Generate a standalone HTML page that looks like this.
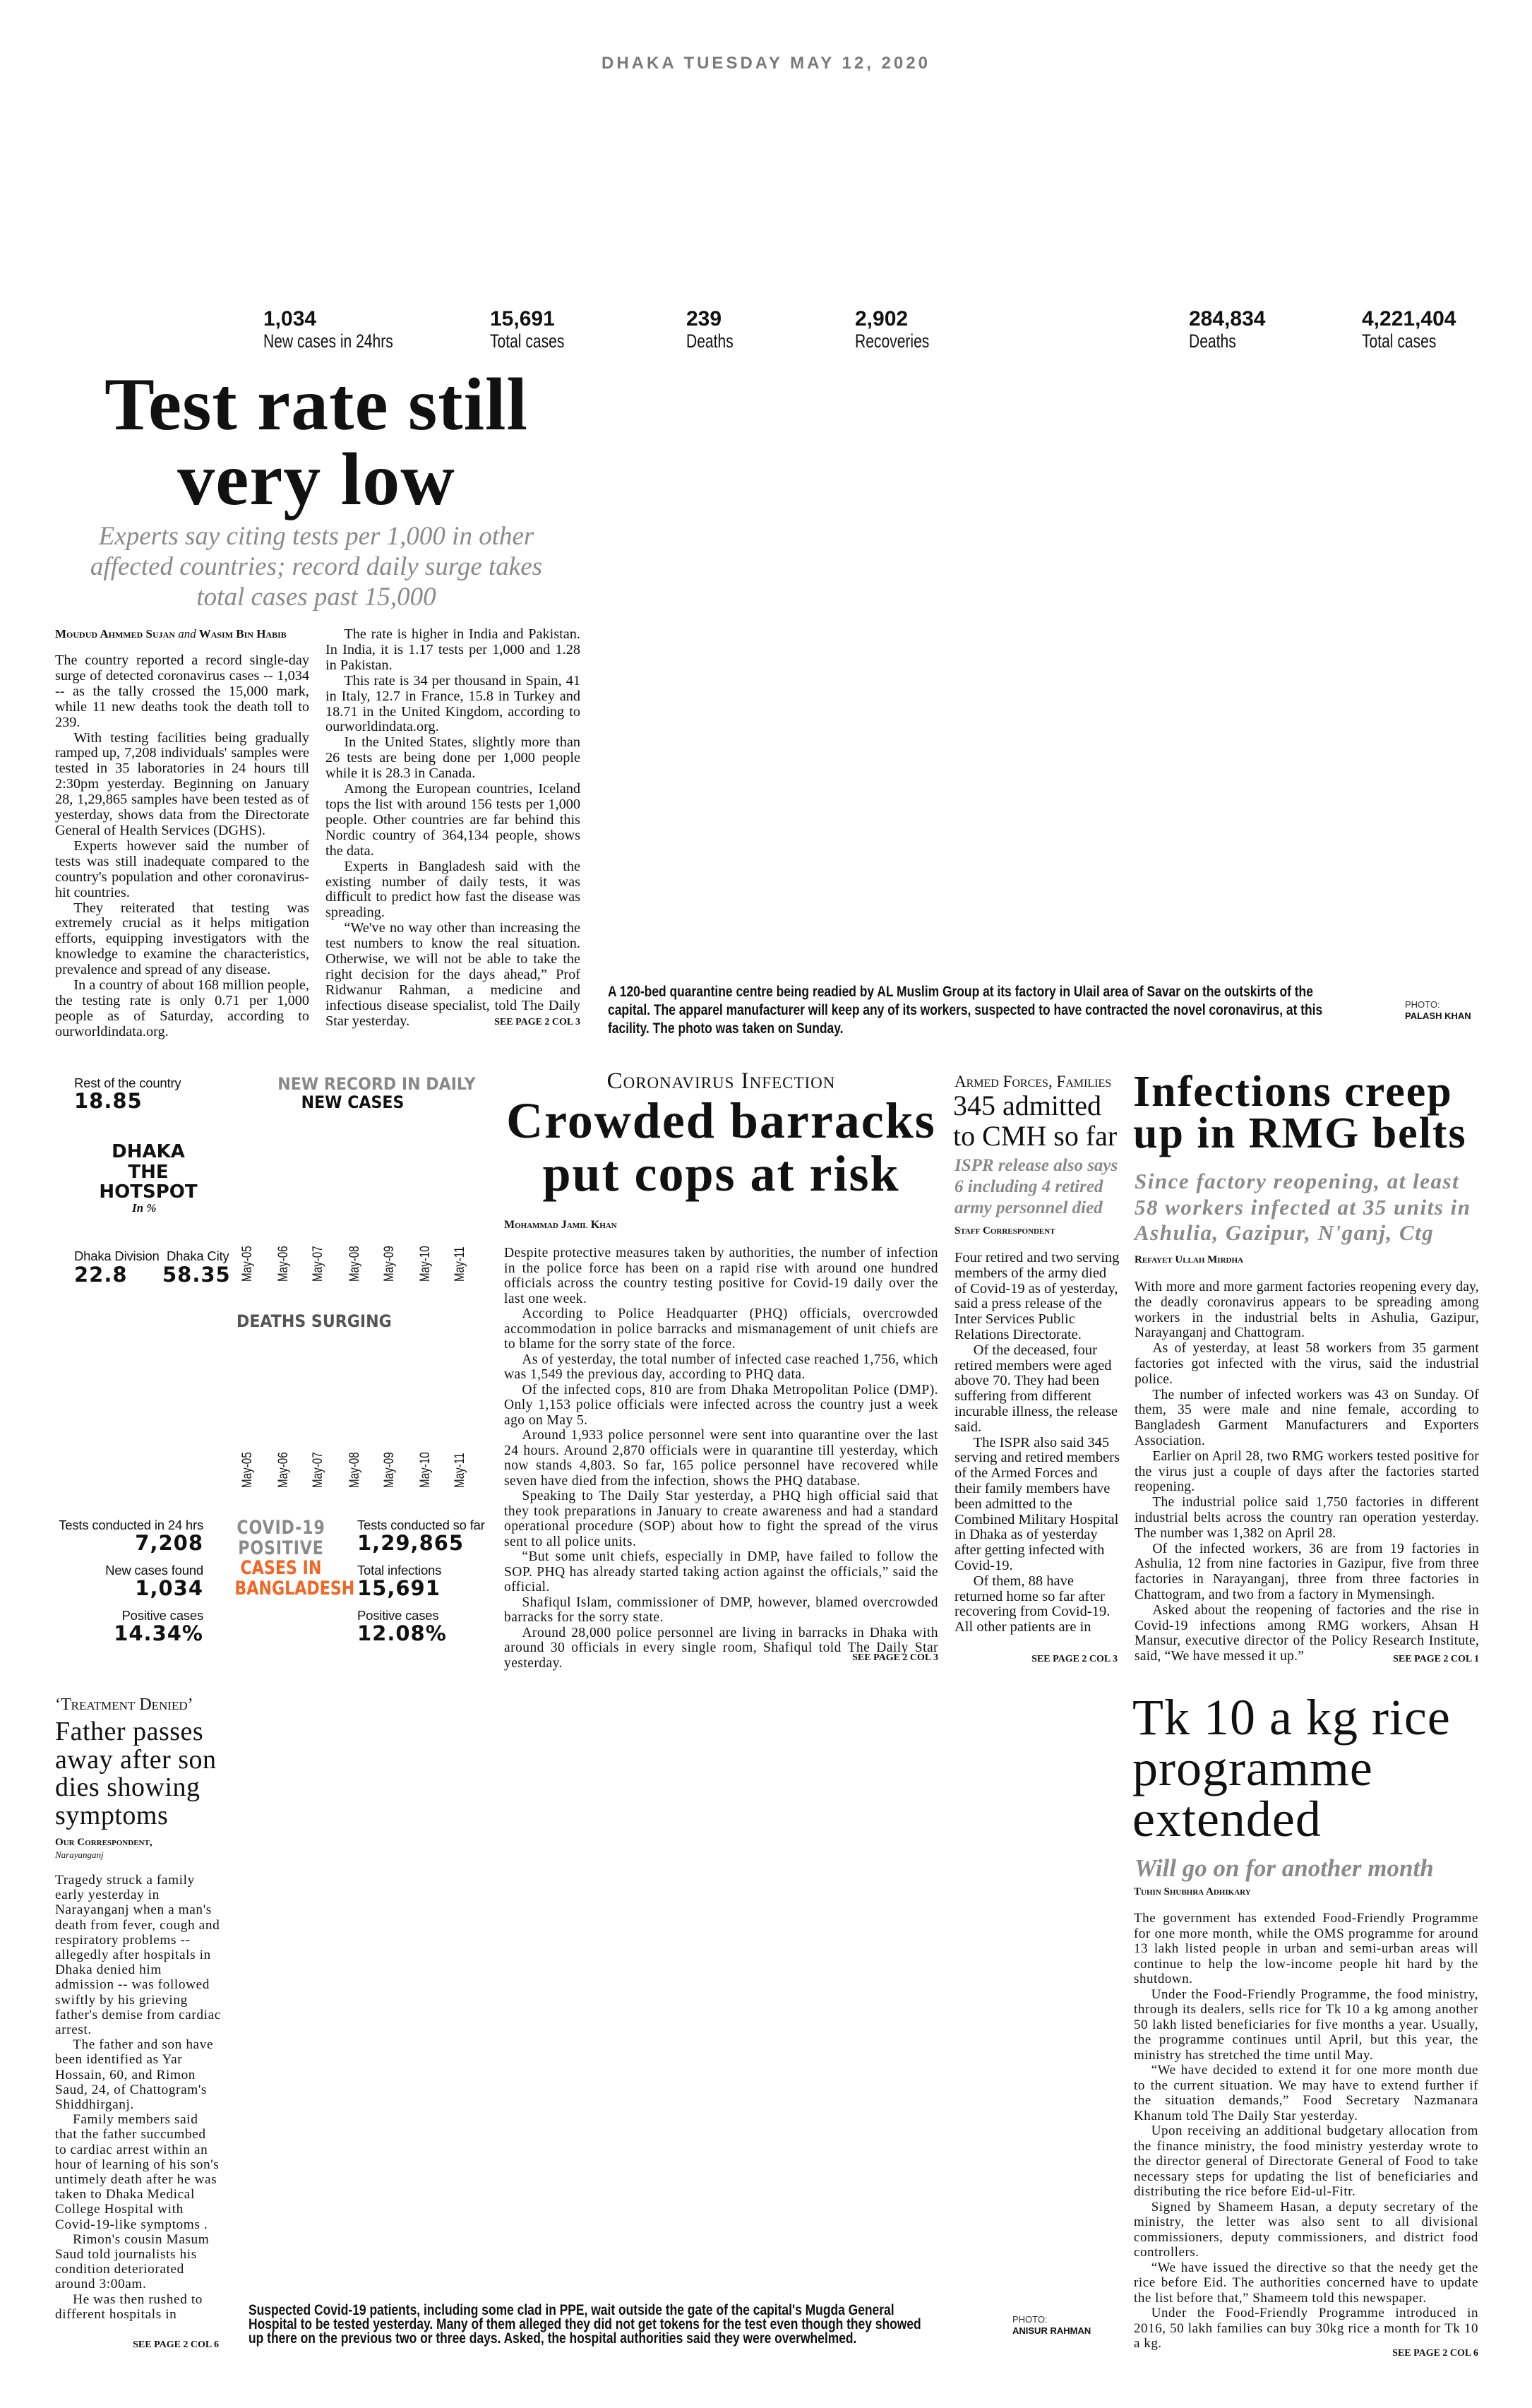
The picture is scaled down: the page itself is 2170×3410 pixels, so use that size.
<!DOCTYPE html>
<html><head><meta charset="utf-8">
<style>
*{margin:0;padding:0;box-sizing:border-box}
body{width:2170px;height:3410px;background:#fff;position:relative;overflow:hidden;font-family:"Liberation Serif",serif;color:#111}
.a{position:absolute}
.nw{white-space:nowrap}
.sans{font-family:"Liberation Sans",sans-serif}
.body p{text-align:justify;text-indent:1.3em}
.body p.first{text-indent:0}
.see{font-family:"Liberation Serif",serif;font-weight:bold;font-size:14px;text-align:right}
.cond{transform-origin:0 0}
.stat-n{font-family:"Liberation Sans",sans-serif;font-weight:bold;font-size:30px;line-height:32px}
.stat-l{font-family:"Liberation Sans",sans-serif;font-size:27px;line-height:30px;transform:scaleX(.78);transform-origin:0 0;white-space:nowrap}
.ig{font-family:"DejaVu Sans",sans-serif}
.lbl{font-family:"Liberation Sans",sans-serif;font-size:18.5px;line-height:20px;white-space:nowrap;letter-spacing:-.2px}
.big{font-family:"DejaVu Sans",sans-serif;font-weight:bold;font-size:29px;line-height:30px;white-space:nowrap;letter-spacing:1px}
.date{font-family:"Liberation Sans",sans-serif;font-size:19px;white-space:nowrap;transform:rotate(-90deg) scaleX(.8);transform-origin:0 0}
</style></head><body>

<div class="a sans nw" style="left:852px;top:76px;font-size:24px;font-weight:bold;letter-spacing:4px;color:#7a7a7a">DHAKA TUESDAY MAY 12, 2020</div>

<!-- stats -->
<div class="a" style="left:373px;top:436px"><div class="stat-n">1,034</div><div class="stat-l">New cases in 24hrs</div></div>
<div class="a" style="left:694px;top:436px"><div class="stat-n">15,691</div><div class="stat-l">Total cases</div></div>
<div class="a" style="left:972px;top:436px"><div class="stat-n">239</div><div class="stat-l">Deaths</div></div>
<div class="a" style="left:1211px;top:436px"><div class="stat-n">2,902</div><div class="stat-l">Recoveries</div></div>
<div class="a" style="left:1684px;top:436px"><div class="stat-n">284,834</div><div class="stat-l">Deaths</div></div>
<div class="a" style="left:1929px;top:436px"><div class="stat-n">4,221,404</div><div class="stat-l">Total cases</div></div>

<!-- Test rate headline -->
<div class="a nw" style="left:78px;width:740px;top:520px;font-size:106px;line-height:106px;text-align:center;font-weight:bold;letter-spacing:1px">Test rate still</div>
<div class="a nw" style="left:78px;width:740px;top:626px;font-size:106px;line-height:106px;text-align:center;font-weight:bold;letter-spacing:1px">very low</div>
<div class="a" style="left:100px;width:696px;top:738px;font-size:37px;line-height:43px;text-align:center;font-style:italic;color:#8a8a8a">Experts say citing tests per 1,000 in other affected countries; record daily surge takes total cases past 15,000</div>

<div class="a nw" style="left:78px;top:888px;font-size:17px;font-weight:bold;font-variant:small-caps">Moudud Ahmmed Sujan <i style="font-weight:normal;font-variant:normal">and</i> Wasim Bin Habib</div>
<div class="a body" style="left:78px;top:925px;width:360px;font-size:20.3px;line-height:21.9px">
<p class="first">The country reported a record single-day surge of detected coronavirus cases -- 1,034 -- as the tally crossed the 15,000 mark, while 11 new deaths took the death toll to 239.</p>
<p>With testing facilities being gradually ramped up, 7,208 individuals' samples were tested in 35 laboratories in 24 hours till 2:30pm yesterday. Beginning on January 28, 1,29,865 samples have been tested as of yesterday, shows data from the Directorate General of Health Services (DGHS).</p>
<p>Experts however said the number of tests was still inadequate compared to the country's population and other coronavirus-hit countries.</p>
<p>They reiterated that testing was extremely crucial as it helps mitigation efforts, equipping investigators with the knowledge to examine the characteristics, prevalence and spread of any disease.</p>
<p>In a country of about 168 million people, the testing rate is only 0.71 per 1,000 people as of Saturday, according to ourworldindata.org.</p>
</div>
<div class="a body" style="left:461px;top:888px;width:361px;font-size:20.3px;line-height:21.9px">
<p>The rate is higher in India and Pakistan. In India, it is 1.17 tests per 1,000 and 1.28 in Pakistan.</p>
<p>This rate is 34 per thousand in Spain, 41 in Italy, 12.7 in France, 15.8 in Turkey and 18.71 in the United Kingdom, according to ourworldindata.org.</p>
<p>In the United States, slightly more than 26 tests are being done per 1,000 people while it is 28.3 in Canada.</p>
<p>Among the European countries, Iceland tops the list with around 156 tests per 1,000 people. Other countries are far behind this Nordic country of 364,134 people, shows the data.</p>
<p>Experts in Bangladesh said with the existing number of daily tests, it was difficult to predict how fast the disease was spreading.</p>
<p>“We've no way other than increasing the test numbers to know the real situation. Otherwise, we will not be able to take the right decision for the days ahead,” Prof Ridwanur Rahman, a medicine and infectious disease specialist, told The Daily Star yesterday.</p>
</div>
<div class="a see nw" style="left:622px;width:200px;top:1440px">SEE PAGE 2 COL 3</div>

<!-- photo caption 1 -->
<div class="a sans cond" style="left:861px;top:1392px;width:1250px;font-size:21px;line-height:26px;font-weight:bold;transform:scaleX(.83)">A 120-bed quarantine centre being readied by AL Muslim Group at its factory in Ulail area of Savar on the outskirts of the capital. The apparel manufacturer will keep any of its workers, suspected to have contracted the novel coronavirus, at this facility. The photo was taken on Sunday.</div>
<div class="a sans nw" style="left:1990px;top:1415px;font-size:13px;line-height:16px;color:#333">PHOTO:<br><b style="color:#111">PALASH KHAN</b></div>

<!-- infographic -->
<div class="a lbl" style="left:105px;top:1524px">Rest of the country</div>
<div class="a big" style="left:105px;top:1544px">18.85</div>
<div class="a ig nw" style="left:384px;width:231px;top:1522px;font-size:24px;font-weight:bold;line-height:26px;text-align:center;color:#888;transform:scaleX(.92);transform-origin:50% 0">NEW RECORD IN DAILY<br><span style="color:#111">NEW CASES</span></div>
<div class="a ig nw" style="left:140px;width:140px;top:1617px;font-size:26px;font-weight:bold;line-height:28.5px;text-align:center">DHAKA<br>THE<br>HOTSPOT</div>
<div class="a nw" style="left:187px;top:1701px;font-size:17px;font-style:italic;font-weight:bold">In %</div>
<div class="a lbl" style="left:105px;top:1769px">Dhaka Division</div>
<div class="a big" style="left:105px;top:1790px">22.8</div>
<div class="a lbl" style="left:236px;top:1769px">Dhaka City</div>
<div class="a big" style="left:230px;top:1790px">58.35</div>

<div class="a date" style="left:340px;top:1815px">May-05</div>
<div class="a date" style="left:391px;top:1815px">May-06</div>
<div class="a date" style="left:440px;top:1815px">May-07</div>
<div class="a date" style="left:492px;top:1815px">May-08</div>
<div class="a date" style="left:541px;top:1815px">May-09</div>
<div class="a date" style="left:592px;top:1815px">May-10</div>
<div class="a date" style="left:641px;top:1815px">May-11</div>

<div class="a ig nw" style="left:335px;top:1857px;font-size:24px;font-weight:bold;color:#555;transform:scaleX(.92);transform-origin:0 0">DEATHS SURGING</div>

<div class="a date" style="left:340px;top:2107px">May-05</div>
<div class="a date" style="left:391px;top:2107px">May-06</div>
<div class="a date" style="left:440px;top:2107px">May-07</div>
<div class="a date" style="left:492px;top:2107px">May-08</div>
<div class="a date" style="left:541px;top:2107px">May-09</div>
<div class="a date" style="left:592px;top:2107px">May-10</div>
<div class="a date" style="left:641px;top:2107px">May-11</div>

<div class="a" style="left:60px;width:228px;top:2150px;text-align:right">
<div class="lbl">Tests conducted in 24 hrs</div><div class="big">7,208</div>
<div class="lbl" style="margin-top:14px">New cases found</div><div class="big">1,034</div>
<div class="lbl" style="margin-top:14px">Positive cases</div><div class="big">14.34%</div>
</div>
<div class="a ig nw" style="left:318px;width:160px;top:2150px;text-align:center;font-size:27px;line-height:28.5px;font-weight:bold;transform:scaleX(.82);transform-origin:50% 0">
<span style="color:#8a8a8a;letter-spacing:1px">COVID-19<br>POSITIVE</span><br><span style="color:#f26522">CASES IN<br>BANGLADESH</span></div>
<div class="a" style="left:506px;top:2150px">
<div class="lbl">Tests conducted so far</div><div class="big">1,29,865</div>
<div class="lbl" style="margin-top:14px">Total infections</div><div class="big">15,691</div>
<div class="lbl" style="margin-top:14px">Positive cases</div><div class="big">12.08%</div>
</div>

<!-- Crowded barracks -->
<div class="a nw" style="left:716px;width:611px;top:1513px;font-size:33px;text-align:center;font-variant:small-caps;letter-spacing:1px">Coronavirus Infection</div>
<div class="a nw" style="left:710px;width:623px;top:1550px;font-size:72px;line-height:75px;text-align:center;font-weight:bold;letter-spacing:2px">Crowded barracks</div>
<div class="a nw" style="left:710px;width:623px;top:1625px;font-size:72px;line-height:75px;text-align:center;font-weight:bold;letter-spacing:2px">put cops at risk</div>
<div class="a nw" style="left:714px;top:1726px;font-size:16px;font-weight:bold;font-variant:small-caps">Mohammad Jamil Khan</div>
<div class="a body" style="left:714px;top:1764px;width:615px;font-size:19.5px;line-height:21.5px;letter-spacing:.45px">
<p class="first">Despite protective measures taken by authorities, the number of infection in the police force has been on a rapid rise with around one hundred officials across the country testing positive for Covid-19 daily over the last one week.</p>
<p>According to Police Headquarter (PHQ) officials, overcrowded accommodation in police barracks and mismanagement of unit chiefs are to blame for the sorry state of the force.</p>
<p>As of yesterday, the total number of infected case reached 1,756, which was 1,549 the previous day, according to PHQ data.</p>
<p>Of the infected cops, 810 are from Dhaka Metropolitan Police (DMP). Only 1,153 police officials were infected across the country just a week ago on May 5.</p>
<p>Around 1,933 police personnel were sent into quarantine over the last 24 hours. Around 2,870 officials were in quarantine till yesterday, which now stands 4,803. So far, 165 police personnel have recovered while seven have died from the infection, shows the PHQ database.</p>
<p>Speaking to The Daily Star yesterday, a PHQ high official said that they took preparations in January to create awareness and had a standard operational procedure (SOP) about how to fight the spread of the virus sent to all police units.</p>
<p>“But some unit chiefs, especially in DMP, have failed to follow the SOP. PHQ has already started taking action against the officials,” said the official.</p>
<p>Shafiqul Islam, commissioner of DMP, however, blamed overcrowded barracks for the sorry state.</p>
<p>Around 28,000 police personnel are living in barracks in Dhaka with around 30 officials in every single room, Shafiqul told The Daily Star yesterday.</p>
</div>
<div class="a see nw" style="left:1129px;width:200px;top:2340px">SEE PAGE 2 COL 3</div>

<!-- 345 admitted -->
<div class="a nw" style="left:1352px;top:1519px;font-size:23px;font-variant:small-caps">Armed Forces, Families</div>
<div class="a nw" style="left:1350px;top:1544px;font-size:40px;line-height:43px">345 admitted<br>to CMH so far</div>
<div class="a" style="left:1352px;width:240px;top:1636px;font-size:25px;line-height:30px;font-style:italic;font-weight:bold;color:#8a8a8a">ISPR release also says 6 including 4 retired army personnel died</div>
<div class="a nw" style="left:1352px;top:1735px;font-size:15px;font-weight:bold;font-variant:small-caps">Staff Correspondent</div>
<div class="a body" style="left:1352px;top:1771px;width:235px;font-size:20.5px;line-height:21.8px">
<p class="first" style="text-align:left">Four retired and two serving members of the army died of Covid-19 as of yesterday, said a press release of the Inter Services Public Relations Directorate.</p>
<p style="text-align:left">Of the deceased, four retired members were aged above 70. They had been suffering from different incurable illness, the release said.</p>
<p style="text-align:left">The ISPR also said 345 serving and retired members of the Armed Forces and their family members have been admitted to the Combined Military Hospital in Dhaka as of yesterday after getting infected with Covid-19.</p>
<p style="text-align:left">Of them, 88 have returned home so far after recovering from Covid-19. All other patients are in</p>
</div>
<div class="a see nw" style="left:1383px;width:200px;top:2342px">SEE PAGE 2 COL 3</div>

<!-- Infections creep -->
<div class="a nw" style="left:1605px;top:1517px;font-size:62px;line-height:59px;font-weight:bold;letter-spacing:2px">Infections creep<br>up in RMG belts</div>
<div class="a" style="left:1607px;width:480px;top:1655px;font-size:31px;line-height:36.5px;font-style:italic;font-weight:bold;color:#8a8a8a;letter-spacing:1.5px">Since factory reopening, at least 58 workers infected at 35 units in Ashulia, Gazipur, N'ganj, Ctg</div>
<div class="a nw" style="left:1607px;top:1776px;font-size:15px;font-weight:bold;font-variant:small-caps">Refayet Ullah Mirdha</div>
<div class="a body" style="left:1607px;top:1812px;width:488px;font-size:19.5px;line-height:21.8px;letter-spacing:.25px">
<p class="first">With more and more garment factories reopening every day, the deadly coronavirus appears to be spreading among workers in the industrial belts in Ashulia, Gazipur, Narayanganj and Chattogram.</p>
<p>As of yesterday, at least 58 workers from 35 garment factories got infected with the virus, said the industrial police.</p>
<p>The number of infected workers was 43 on Sunday. Of them, 35 were male and nine female, according to Bangladesh Garment Manufacturers and Exporters Association.</p>
<p>Earlier on April 28, two RMG workers tested positive for the virus just a couple of days after the factories started reopening.</p>
<p>The industrial police said 1,750 factories in different industrial belts across the country ran operation yesterday. The number was 1,382 on April 28.</p>
<p>Of the infected workers, 36 are from 19 factories in Ashulia, 12 from nine factories in Gazipur, five from three factories in Narayanganj, three from three factories in Chattogram, and two from a factory in Mymensingh.</p>
<p>Asked about the reopening of factories and the rise in Covid-19 infections among RMG workers, Ahsan H Mansur, executive director of the Policy Research Institute, said, “We have messed it up.”</p>
</div>
<div class="a see nw" style="left:1895px;width:200px;top:2342px">SEE PAGE 2 COL 1</div>

<!-- Father passes -->
<div class="a nw" style="left:78px;top:2401px;font-size:24px;font-variant:small-caps">‘Treatment Denied’</div>
<div class="a nw" style="left:78px;top:2433px;font-size:38px;line-height:39.5px;letter-spacing:.5px">Father passes<br>away after son<br>dies showing<br>symptoms</div>
<div class="a nw" style="left:78px;top:2601px;font-size:15px;font-weight:bold;font-variant:small-caps">Our Correspondent,</div>
<div class="a nw" style="left:78px;top:2619px;font-size:13px;font-style:italic">Narayanganj</div>
<div class="a body" style="left:78px;top:2652px;width:235px;font-size:19.3px;line-height:21.2px;letter-spacing:.6px">
<p class="first" style="text-align:left">Tragedy struck a family early yesterday in Narayanganj when a man's death from fever, cough and respiratory problems -- allegedly after hospitals in Dhaka denied him admission -- was followed swiftly by his grieving father's demise from cardiac arrest.</p>
<p style="text-align:left">The father and son have been identified as Yar Hossain, 60, and Rimon Saud, 24, of Chattogram's Shiddhirganj.</p>
<p style="text-align:left">Family members said that the father succumbed to cardiac arrest within an hour of learning of his son's untimely death after he was taken to Dhaka Medical College Hospital with Covid-19-like symptoms .</p>
<p style="text-align:left">Rimon's cousin Masum Saud told journalists his condition deteriorated around 3:00am.</p>
<p style="text-align:left">He was then rushed to different hospitals in</p>
</div>
<div class="a see nw" style="left:110px;width:200px;top:3313px">SEE PAGE 2 COL 6</div>

<!-- bottom caption -->
<div class="a sans cond" style="left:352px;top:3262px;width:1170px;font-size:21px;line-height:20px;font-weight:bold;transform:scaleX(.83)">Suspected Covid-19 patients, including some clad in PPE, wait outside the gate of the capital's Mugda General Hospital to be tested yesterday. Many of them alleged they did not get tokens for the test even though they showed up there on the previous two or three days. Asked, the hospital authorities said they were overwhelmed.</div>
<div class="a sans nw" style="left:1434px;top:3277px;font-size:13px;line-height:16px;color:#333">PHOTO:<br><b style="color:#111">ANISUR RAHMAN</b></div>

<!-- Tk 10 rice -->
<div class="a nw" style="left:1604px;top:2396px;font-size:72px;line-height:72px;letter-spacing:1px">Tk 10 a kg rice<br>programme<br>extended</div>
<div class="a nw" style="left:1607px;top:2626px;font-size:35px;font-style:italic;font-weight:bold;color:#8a8a8a">Will go on for another month</div>
<div class="a nw" style="left:1606px;top:2671px;font-size:15px;font-weight:bold;font-variant:small-caps">Tuhin Shubhra Adhikary</div>
<div class="a body" style="left:1606px;top:2706px;width:488px;font-size:19px;line-height:21.5px;letter-spacing:.55px">
<p class="first">The government has extended Food-Friendly Programme for one more month, while the OMS programme for around 13 lakh listed people in urban and semi-urban areas will continue to help the low-income people hit hard by the shutdown.</p>
<p>Under the Food-Friendly Programme, the food ministry, through its dealers, sells rice for Tk 10 a kg among another 50 lakh listed beneficiaries for five months a year. Usually, the programme continues until April, but this year, the ministry has stretched the time until May.</p>
<p>“We have decided to extend it for one more month due to the current situation. We may have to extend further if the situation demands,” Food Secretary Nazmanara Khanum told The Daily Star yesterday.</p>
<p>Upon receiving an additional budgetary allocation from the finance ministry, the food ministry yesterday wrote to the director general of Directorate General of Food to take necessary steps for updating the list of beneficiaries and distributing the rice before Eid-ul-Fitr.</p>
<p>Signed by Shameem Hasan, a deputy secretary of the ministry, the letter was also sent to all divisional commissioners, deputy commissioners, and district food controllers.</p>
<p>“We have issued the directive so that the needy get the rice before Eid. The authorities concerned have to update the list before that,” Shameem told this newspaper.</p>
<p>Under the Food-Friendly Programme introduced in 2016, 50 lakh families can buy 30kg rice a month for Tk 10 a kg.</p>
</div>
<div class="a see nw" style="left:1894px;width:200px;top:3325px">SEE PAGE 2 COL 6</div>

</body></html>
